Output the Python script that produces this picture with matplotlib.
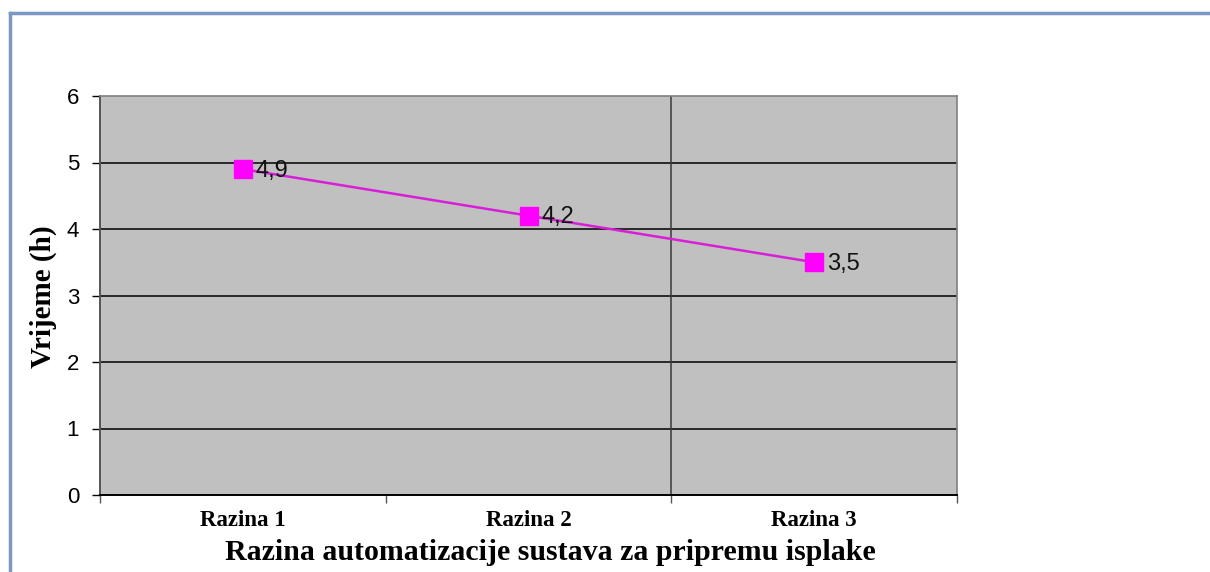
import numpy as np
import matplotlib.pyplot as plt
from matplotlib.lines import Line2D

# chart data
categories = ['Razina 1', 'Razina 2', 'Razina 3']
values = [4.9, 4.2, 3.5]
value_labels = ['4,9', '4,2', '3,5']
y_ticks = [0, 1, 2, 3, 4, 5, 6]

W, H = 1210, 572
fig = plt.figure(figsize=(W / 100, H / 100), dpi=100)
fig.patch.set_facecolor('white')

# blue frame line at top and left (screenshot border)
fig.add_artist(Line2D([10 / W, 1], [1 - 13 / H, 1 - 13 / H], transform=fig.transFigure,
                      color='#7b98c4', lw=2.5))
fig.add_artist(Line2D([10 / W, 10 / W], [0, 1 - 13 / H], transform=fig.transFigure,
                      color='#7b98c4', lw=2.5))

ax = fig.add_axes([100 / W, 1 - 495 / H, (957 - 100) / W, (495 - 96) / H])
ax.set_facecolor('#c0c0c0')

x = np.arange(len(categories))
ax.set_xlim(-0.5, len(categories) - 0.5)
ax.set_ylim(0, 6)

# horizontal gridlines
for yv in y_ticks[1:-1]:
    ax.axhline(yv, color='black', lw=1.1, zorder=1)
# single vertical category divider as in the original
ax.axvline(1.5, color='#3a3a3a', lw=1.1, zorder=1)

ax.plot(x, values, color='#d81ed8', lw=1.8, marker='s', markersize=13,
        markerfacecolor='#ff00ff', markeredgecolor='#ff00ff', zorder=3)
for xi, v, lab in zip(x, values, value_labels):
    ax.annotate(lab, (xi, v), xytext=(9, -1), textcoords='offset points',
                ha='left', va='center', fontsize=17, family='Liberation Sans',
                color='#111111', zorder=4)

ax.set_yticks(y_ticks)
ax.set_yticklabels([str(t) for t in y_ticks], fontsize=16, family='Liberation Sans')
ax.tick_params(axis='y', length=6, width=1, color='black', pad=9)

ax.set_xticks(x)
ax.set_xticklabels(categories, fontsize=16.5, family='Liberation Serif', fontweight='bold')
ax.set_xticks(np.arange(-0.5, len(categories)), minor=True)
ax.tick_params(axis='x', which='major', length=0, pad=11)
ax.tick_params(axis='x', which='minor', length=6, width=1, color='#555555', direction='out')

for s in ['top', 'right']:
    ax.spines[s].set_color('#808080')
    ax.spines[s].set_linewidth(1.2)
ax.spines['left'].set_color('#555555')
ax.spines['left'].set_linewidth(1.4)
ax.spines['bottom'].set_color('black')
ax.spines['bottom'].set_linewidth(1.4)

ax.set_xlabel('Razina automatizacije sustava za pripremu isplake', fontsize=21.5,
              family='Liberation Serif', fontweight='bold')
ax.xaxis.set_label_coords((550 - 100) / 857, -(553 - 495) / 399)
ax.xaxis.label.set_va('center')
ax.set_ylabel('Vrijeme (h)', fontsize=21, family='Liberation Serif', fontweight='bold')
ax.yaxis.set_label_coords(-(100 - 43) / 857, (495 - 297) / 399)
ax.yaxis.label.set_va('center')

fig.savefig('out.png', dpi=100)
